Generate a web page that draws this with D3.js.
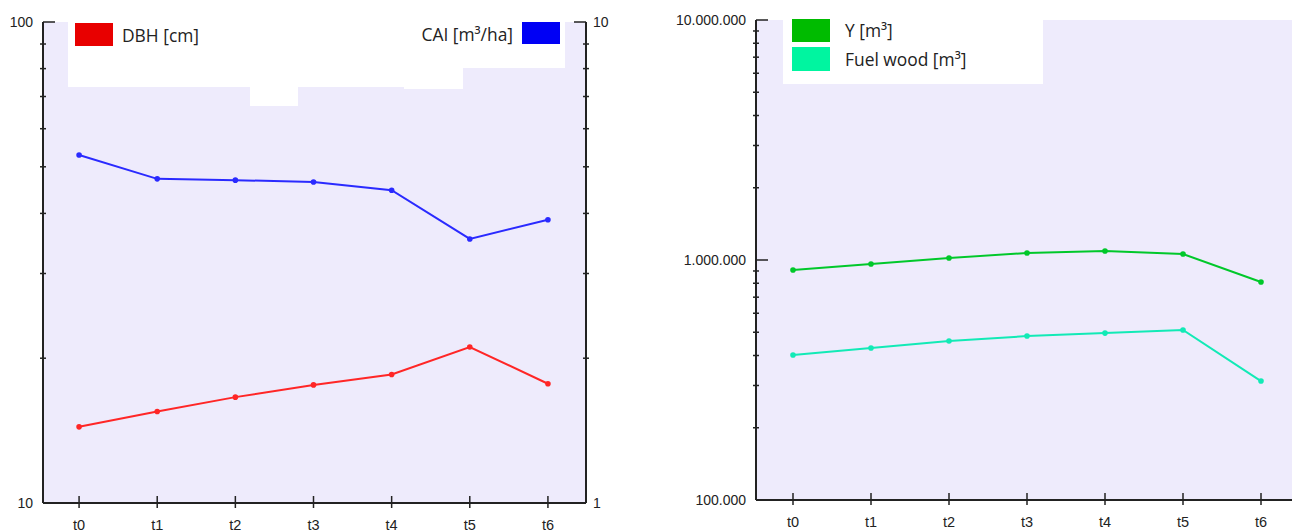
<!DOCTYPE html>
<html><head><meta charset="utf-8">
<script src="https://cdn.jsdelivr.net/npm/d3@7"></script>
<style>
body{margin:0;background:#fff;}
svg{display:block;}
text{font-family:"Liberation Sans",Arial,sans-serif;fill:#222;}
.leg{font-family:"Open Sans",sans-serif;font-size:17.4px;fill:#222;}
</style></head>
<body>
<svg id="c" width="1292" height="532"></svg>
<script>
const categories = ["t0","t1","t2","t3","t4","t5","t6"];
const dbh = [14.4, 15.5, 16.6, 17.6, 18.5, 21.1, 17.7];
const cai = [5.29, 4.72, 4.69, 4.65, 4.47, 3.54, 3.88];
const yVol = [908000, 962000, 1019000, 1069000, 1090000, 1059000, 810000];
const fuelWood = [402000, 430000, 460000, 482000, 496000, 511000, 313000];
const leftTicks = [10, 100];
const rightTicks = [1, 10];
const volTicks = [100000, 1000000, 10000000];

const svg = d3.select("#c");
const BG = "#eeebfc";
const AX = "#222";

function minorTicks(lo, hi){
  const out=[];
  for(let d=lo; d<hi; d*=10) for(let k=2;k<=9;k++) out.push(d*k);
  return out;
}
const fmtDot = v => d3.format(",")(v).replace(/,/g,".");

function drawYAxis(g, scale, x, major, side, fmt){
  g.append("line").attr("x1",x).attr("x2",x)
    .attr("y1",scale.range()[1]).attr("y2",scale.range()[0])
    .attr("stroke",AX).attr("stroke-width",2);
  const dom = scale.domain();
  minorTicks(dom[0],dom[1]).forEach(v=>{
    g.append("line").attr("x1",x-3).attr("x2",x+3)
      .attr("y1",scale(v)).attr("y2",scale(v)).attr("stroke",AX).attr("stroke-width",1.5);
  });
  major.forEach(v=>{
    g.append("line").attr("x1",x).attr("x2",x+side*12)
      .attr("y1",scale(v)).attr("y2",scale(v)).attr("stroke",AX).attr("stroke-width",1.5);
    g.append("text").attr("x", side>0 ? x-10 : x+7).attr("y",scale(v)+5)
      .attr("text-anchor", side>0 ? "end":"start")
      .attr("font-size",14).text(fmt(v));
  });
}

function drawXAxis(g, xs, y, x0, x1){
  g.append("line").attr("x1",x0).attr("x2",x1).attr("y1",y).attr("y2",y)
    .attr("stroke",AX).attr("stroke-width",2);
  categories.forEach(c=>{
    const cx = xs(c)+xs.bandwidth()/2;
    g.append("line").attr("x1",cx).attr("x2",cx).attr("y1",y-7).attr("y2",y+5)
      .attr("stroke",AX).attr("stroke-width",1.5);
    g.append("text").attr("x",cx).attr("y",y+27).attr("text-anchor","middle")
      .attr("font-size",14.5).text(c);
  });
}

function drawSeries(g, xs, ys, vals, color){
  const pts = vals.map((v,i)=>[xs(categories[i])+xs.bandwidth()/2, ys(v)]);
  g.append("path").attr("d", d3.line()(pts)).attr("fill","none")
    .attr("stroke",color).attr("stroke-width",2);
  g.selectAll(null).data(pts).enter().append("circle")
    .attr("cx",d=>d[0]).attr("cy",d=>d[1]).attr("r",2.8).attr("fill",color);
}

// ---------- Left chart ----------
const L = {x0:43, x1:586, top:22, bot:503};
const gL = svg.append("g");
gL.append("rect").attr("x",L.x0).attr("y",L.top).attr("width",L.x1-L.x0).attr("height",L.bot-L.top).attr("fill",BG);
[[68,22,395,65],[250,87,48,19],[404,87,59,2],[463,22,102,46]].forEach(r=>{
  gL.append("rect").attr("x",r[0]).attr("y",r[1]).attr("width",r[2]).attr("height",r[3]).attr("fill","#fff");
});
const xL = d3.scaleBand().domain(categories).range([40,587]);
const yDBH = d3.scaleLog().domain([10,100]).range([L.bot,L.top]);
const yCAI = d3.scaleLog().domain([1,10]).range([L.bot,L.top]);
drawSeries(gL, xL, yCAI, cai, "#2a2aff");
drawSeries(gL, xL, yDBH, dbh, "#ff2626");
drawYAxis(gL, yDBH, L.x0, leftTicks, 1, d=>d);
drawYAxis(gL, yCAI, L.x1, rightTicks, -1, d=>d);
drawXAxis(gL, xL, L.bot, L.x0, L.x1);
gL.append("rect").attr("x",75).attr("y",23).attr("width",38).attr("height",23).attr("fill","#e80000");
gL.append("text").attr("class","leg").attr("x",122).attr("y",42).text("DBH [cm]");
gL.append("rect").attr("x",522).attr("y",22).attr("width",38).attr("height",22).attr("fill","#0000f5");
gL.append("text").attr("class","leg").attr("x",513).attr("y",41).attr("text-anchor","end").text("CAI [m³/ha]");

// ---------- Right chart ----------
const R = {x0:756, x1:1300, top:20, bot:500};
const gR = svg.append("g");
gR.append("rect").attr("x",R.x0).attr("y",R.top).attr("width",R.x1-R.x0).attr("height",R.bot-R.top).attr("fill",BG);
gR.append("rect").attr("x",783).attr("y",20).attr("width",260).attr("height",64).attr("fill","#fff");
const xR = d3.scaleBand().domain(categories).range([754,1300]);
const yR = d3.scaleLog().domain([100000,10000000]).range([R.bot,R.top]);
drawSeries(gR, xR, yR, fuelWood, "#12eab6");
drawSeries(gR, xR, yR, yVol, "#00c82a");
drawYAxis(gR, yR, R.x0, volTicks, 1, fmtDot);
drawXAxis(gR, xR, R.bot, R.x0, R.x1);
gR.append("rect").attr("x",792).attr("y",19).attr("width",38).attr("height",23).attr("fill","#00bb00");
gR.append("text").attr("class","leg").attr("x",845).attr("y",37).text("Y [m³]");
gR.append("rect").attr("x",792).attr("y",47).attr("width",38).attr("height",24).attr("fill","#00f5a0");
gR.append("text").attr("class","leg").attr("x",845).attr("y",66).text("Fuel wood [m³]");
</script>
</body></html>
